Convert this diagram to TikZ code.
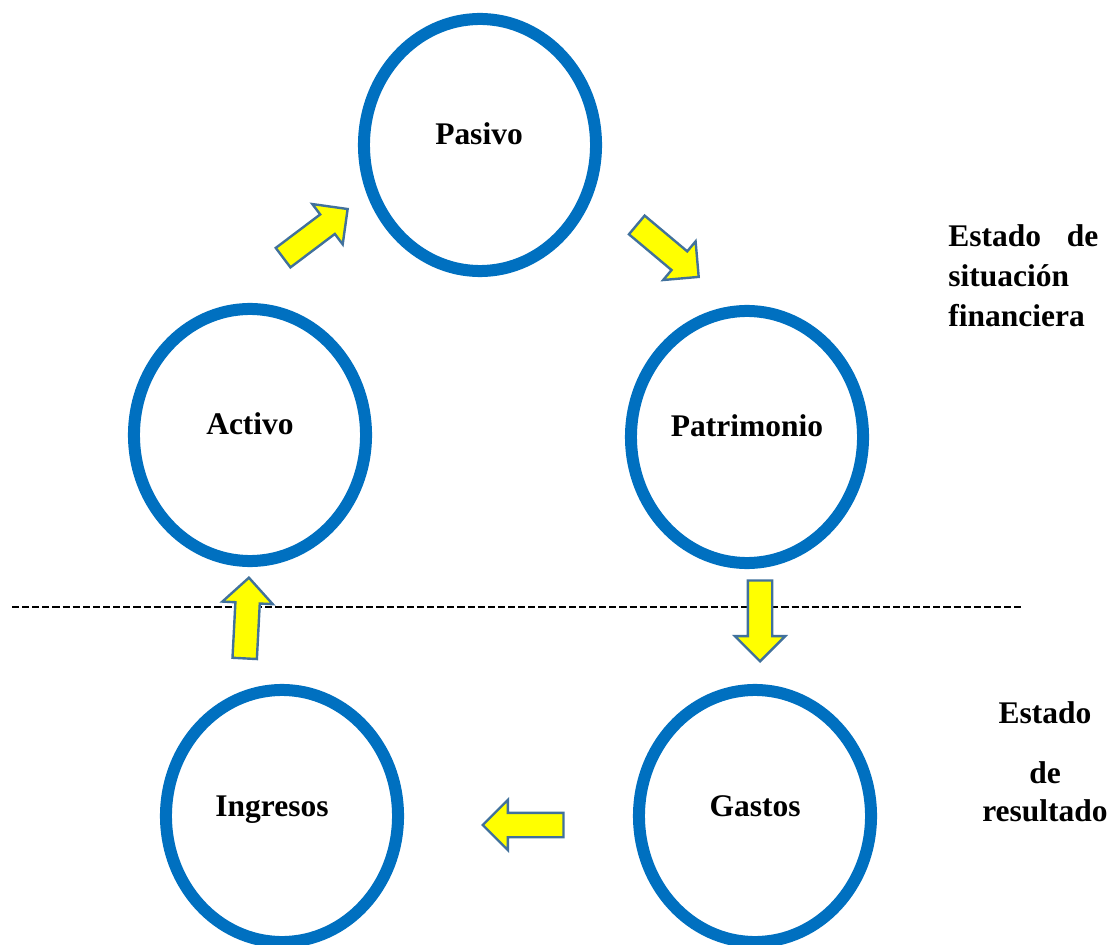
\documentclass[tikz,border=0pt]{standalone}
\usepackage{fontspec}
\setmainfont{Liberation Serif}
\usetikzlibrary{shapes.geometric, shapes.arrows, positioning}
\definecolor{ringblue}{RGB}{0,112,192}
\definecolor{arrowedge}{RGB}{65,113,156}
\definecolor{arrowfill}{RGB}{255,255,0}

\begin{document}
\begin{tikzpicture}[x=0.025cm, y=-0.025cm,
        ring/.style={ellipse, draw=ringblue, line width=0.3cm, minimum width=5.8cm, minimum height=6.3cm, inner sep=0pt},
        lbl/.style={anchor=base, inner sep=0pt, font=\fontsize{22.4}{27}\selectfont\bfseries},
        bigarrow/.style={single arrow, draw=arrowedge, fill=arrowfill, line width=0.06cm, minimum height=2.02cm, single arrow head extend=0.325cm, inner sep=0.275cm, anchor=tip},
        sidetext/.style={inner sep=0pt, font=\fontsize{22.4}{28.7}\selectfont\bfseries},
        divider/.style={line width=0.06cm, dash pattern=on 5pt off 2.2pt}
    ]
    \useasboundingbox (0,0) rectangle (1113,945);

    % Rings
    \node[ring] (pasivo) at (480,145) {};
    \node[ring] (activo) at (250,435) {};
    \node[ring] (patrimonio) at (747,437) {};
    \node[ring] (ingresos) at (282,816) {};
    \node[ring] (gastos) at (755,816) {};

    % Ring labels
    \node[lbl] (pasivo-t) at (479,145) {Pasivo};
    \node[lbl] (activo-t) at (250,435) {Activo};
    \node[lbl] (patrimonio-t) at (747,437) {Patrimonio};
    \node[lbl] (ingresos-t) at (272,816) {Ingresos};
    \node[lbl] (gastos-t) at (755,816) {Gastos};

    % Divider
    \coordinate (divl) at (12,607);
    \coordinate (divr) at (1022,607);
    \draw[divider] (divl) -- (divr);

    % Block arrows (placed by their tips)
    \node[bigarrow, rotate=37] (a1) at (349,208) {};
    \node[bigarrow, rotate=-40] (a2) at (700,278) {};
    \node[bigarrow, rotate=-90] (a3) at (760,663) {};
    \node[bigarrow, rotate=180] (a4) at (481,825) {};
    \node[bigarrow, rotate=87] (a5) at (249,576) {};

    % Side texts
    \node[sidetext, anchor=north west, text width=3.75cm, align=left] (situacion) at (948,224)
        {Estado\hfill de\\ situación\\ financiera};
    \node[sidetext, anchor=north, align=center, font=\fontsize{22.4}{26.9}\selectfont\bfseries] (resultado) at (1045,701)
        {Estado\\[0.575cm] de\\ resultado};

\end{tikzpicture}
\end{document}
